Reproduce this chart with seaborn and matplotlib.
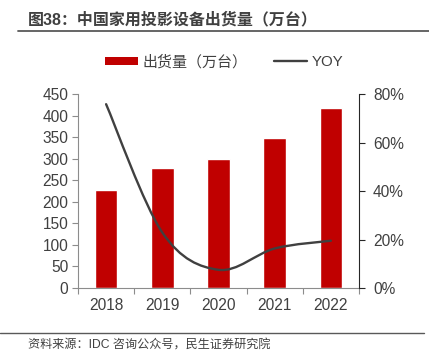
import numpy as np
import pandas as pd
import matplotlib
matplotlib.use("Agg")
import matplotlib.pyplot as plt
import seaborn as sns
from matplotlib.path import Path
from matplotlib.patches import PathPatch, Patch
from matplotlib.lines import Line2D

# data
years = ["2018", "2019", "2020", "2021", "2022"]
shipments = [227, 279, 300, 349, 417]          # 万台
yoy = [0.758, 0.229, 0.075, 0.163, 0.195]      # growth rate

sns.set_theme(style="white")
plt.rcParams['font.family'] = ['Liberation Sans', 'Noto Sans CJK SC']

RED = "#C00000"
LINE = "#404040"
TXT = "#404040"
FS = 11.2

fig = plt.figure(figsize=(4.29, 3.54), dpi=100)
W, H = 429, 354
ax = fig.add_axes([78 / W, 1 - 288 / H, (359 - 78) / W, (288 - 94) / H])

df = pd.DataFrame({"year": years, "shipments": shipments})
sns.barplot(data=df, x="year", y="shipments", color=RED, width=0.4,
            saturation=1, ax=ax)
ax.set_xlim(-0.5, len(years) - 0.5)
ax.set_ylim(0, 450)
ax.set_yticks(range(0, 451, 50))
ax.set_xlabel(""); ax.set_ylabel("")

# right axis: smoothed YOY line (cubic bezier through the data points)
ax2 = ax.twinx()
ax2.set_ylim(0, 0.8)
ax2.set_yticks([0, 0.2, 0.4, 0.6, 0.8])
ax2.set_yticklabels(["0%", "20%", "40%", "60%", "80%"])
pts = np.column_stack([np.arange(len(yoy)), yoy])
ext = np.vstack([pts[0], pts, pts[-1]])
verts, codes = [pts[0]], [Path.MOVETO]
for i in range(len(pts) - 1):
    p0, p1, p2, p3 = ext[i], ext[i + 1], ext[i + 2], ext[i + 3]
    verts += [p1 + (p2 - p0) / 6, p2 - (p3 - p1) / 6, p2]
    codes += [Path.CURVE4] * 3
ax2.add_patch(PathPatch(Path(verts, codes), facecolor="none",
                        edgecolor=LINE, lw=1.7, capstyle="round"))

# spines / ticks
ax.spines["top"].set_visible(False)
ax2.spines["top"].set_visible(False)
ax.spines["right"].set_visible(False)
ax2.spines["left"].set_visible(False)
ax2.spines["bottom"].set_visible(False)
ax.spines["left"].set_color("#8c8c8c")
ax.spines["bottom"].set_color("#8c8c8c")
ax2.spines["right"].set_color("#262626")
for s in ("left", "bottom"):
    ax.spines[s].set_linewidth(0.8)
ax2.spines["right"].set_linewidth(0.8)

ax.tick_params(axis="y", direction="out", length=4, width=0.8, color="#8c8c8c",
               labelsize=FS, labelcolor=TXT, pad=3, left=True)
ax2.tick_params(axis="y", direction="out", length=4, width=0.8, color="#262626",
                labelsize=FS, labelcolor=TXT, pad=6, right=True)
ax.set_xticks(np.arange(len(years)))
ax.set_xticklabels(years)
ax.tick_params(axis="x", which="major", length=0, labelsize=FS,
               labelcolor=TXT, pad=7)
ax.set_xticks(np.arange(-0.5, len(years)), minor=True)
ax.tick_params(axis="x", which="minor", direction="out", length=4, width=0.8,
               color="#8c8c8c", bottom=True)

# legend
handles = [Patch(facecolor=RED, edgecolor="none"),
           Line2D([], [], color=LINE, lw=1.7)]
fig.legend(handles, ["出货量（万台）", "YOY"], loc="center",
           bbox_to_anchor=(224 / W, 1 - 62 / H), ncol=2, frameon=False,
           fontsize=10.8, labelcolor=TXT, handlelength=2.2, handleheight=0.5,
           handletextpad=0.3, columnspacing=1.8)

# title and footer
fig.text(28 / W, 1 - 20 / H, "图38：中国家用投影设备出货量（万台）",
         fontsize=11.5, fontweight="bold", color="#404040", va="center")
fig.add_artist(Line2D([18 / W, 1], [1 - 31 / H] * 2, color="#595959", lw=1.3))
fig.add_artist(Line2D([0, 424 / W], [1 - 333 / H] * 2, color="#595959", lw=1.0))
fig.text(28 / W, 1 - 346 / H, "资料来源：IDC 咨询公众号，民生证券研究院",
         fontsize=8.7, color="#404040", va="center")

fig.savefig("out.png", dpi=100)
